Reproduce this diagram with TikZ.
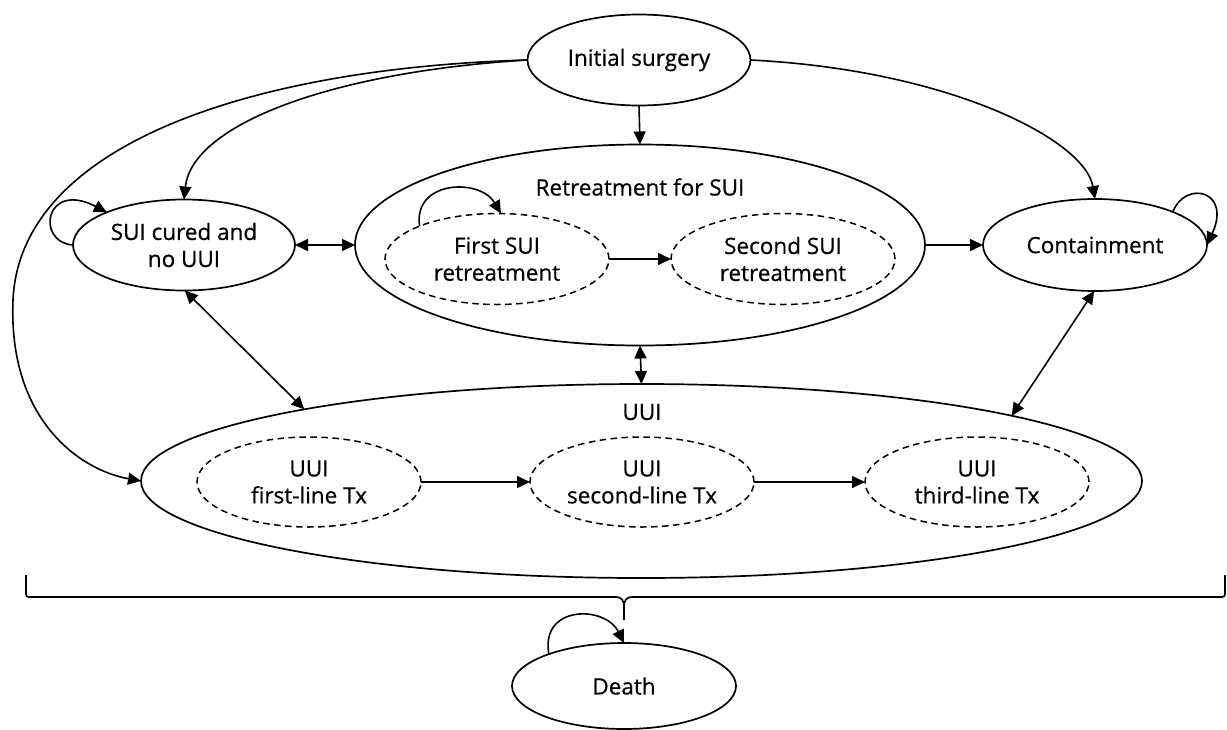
\documentclass[tikz,border=0pt]{standalone}
\usepackage{fontspec}
\setmainfont[FakeBold=0.6]{Open Sans}
\usetikzlibrary{shapes.geometric,arrows.meta}
\tikzset{
  st/.style={ellipse,draw,line width=1.7pt,inner sep=0pt,outer sep=0pt,align=center,
    font=\fontsize{22.5pt}{27pt}\selectfont},
  sub/.style={st,dash pattern=on 6.5pt off 4.5pt,line width=1.5pt},
  lbl/.style={font=\fontsize{22.5pt}{27pt}\selectfont,inner sep=0pt},
  tip/.style={},
  arr/.style={line width=1.6pt,-{Triangle[length=13pt,width=12pt]}},
  darr/.style={line width=1.6pt,{Triangle[length=13pt,width=12pt]}-{Triangle[length=13pt,width=12pt]}},
  bracestyle/.style={line width=1.7pt}
}
\begin{document}
\begin{tikzpicture}[x=1pt,y=-1pt]
\useasboundingbox (0,0) rectangle (1227,729);
% nodes
\node[st,minimum width=223pt,minimum height=91pt] (ini) at (639,60) {Initial surgery};
\node[st,minimum width=570pt,minimum height=201pt] (ret) at (640,245) {};
\node[lbl] (retl) at (640,187) {Retreatment for SUI};
\node[sub,minimum width=224pt,minimum height=91pt] (first) at (497,259) {First SUI\\retreatment};
\node[sub,minimum width=224pt,minimum height=91pt] (second) at (783,259) {Second SUI\\retreatment};
\node[st,minimum width=222pt,minimum height=91pt] (sui) at (184,245) {SUI cured and\\no UUI};
\node[st,minimum width=224pt,minimum height=92pt] (cont) at (1095,245) {Containment};
\node[st,minimum width=1001pt,minimum height=194pt] (uui) at (641.5,481) {};
\node[lbl] (uuil) at (642,412) {UUI};
\node[sub,minimum width=224pt,minimum height=90pt] (u1) at (309,482) {UUI\\first-line Tx};
\node[sub,minimum width=224pt,minimum height=90pt] (u2) at (642,482) {UUI\\second-line Tx};
\node[sub,minimum width=224pt,minimum height=90pt] (u3) at (977,482) {UUI\\third-line Tx};
\node[st,minimum width=224pt,minimum height=86pt] (death) at (624,686) {Death};
\coordinate (bt) at (624,620);
% connectors
\draw[arr] (ini.south) -- (ret.north);
\draw[arr] (ini.west) .. controls (330,72) and (192,125) .. (sui.north);
\draw[arr] (ini.east) .. controls (950,70) and (1085,140) .. (cont.north);
\draw[arr] (ini.west) .. controls (250,68) and (20,145) .. (13,300) .. controls (8,420) and (80,470) .. (uui.west);
\draw[darr] (sui.east) -- (ret.west);
\draw[arr] (ret.east) -- (cont.west);
\draw[arr] (first.east) -- (second.west);
\draw[darr] (sui.-89) -- (uui.168.96);
\draw[darr] (ret.south) -- (uui.north);
\draw[darr] (cont.-91) -- (uui.10.9);
\draw[arr] (u1.east) -- (u2.west);
\draw[arr] (u2.east) -- (u3.west);
% self loops
\draw[arr] (sui.west) .. controls (35,242) and (45,180) .. (sui.157);
\draw[arr] (cont.23) .. controls (1185,180) and (1232,190) .. (cont.east);
\draw[arr] (first.157.7) .. controls (413,180) and (480,178) .. (first.85);
\draw[arr] (death.157.7) .. controls (540,605) and (605,605) .. (death.north);
% brace
\draw[bracestyle] (26,575) -- (26,591) .. controls (26,597) .. (32,597) -- (615,597)
  .. controls (622,597) and (624,600) .. (624,608) -- (bt);
\draw[bracestyle] (624,608) .. controls (624,600) and (626,597) .. (633,597) -- (1219,597)
  .. controls (1225,597) .. (1225,591) -- (1225,575);
\end{tikzpicture}
\end{document}
